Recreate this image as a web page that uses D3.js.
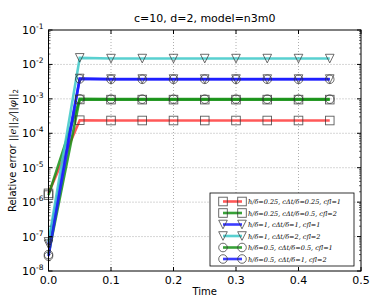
<!DOCTYPE html>
<meta charset="utf-8">
<head>
<style>
  body, html { margin: 0; background: white; }
  svg text { font-family: "DejaVu Sans", sans-serif; fill: #000; }
  .grid line { stroke: #999; stroke-dasharray: 1,2; stroke-width: 0.8; }
  .leg text { font-family: "DejaVu Serif", serif; font-style: italic; font-size: 6.5px; }
</style>
<script src="https://cdn.jsdelivr.net/npm/d3@7"></script>
</head>
<body>
<div id="chart"></div>
<script>
var times = [0, 0.05, 0.1, 0.15, 0.2, 0.25, 0.3, 0.35, 0.4, 0.45];
var redSq   = [1.8e-6, 2.4e-4, 2.35e-4, 2.35e-4, 2.35e-4, 2.35e-4, 2.35e-4, 2.35e-4, 2.35e-4, 2.35e-4];
var greenSq = [1.6e-6, 9.6e-4, 9.5e-4, 9.5e-4, 9.5e-4, 9.5e-4, 9.5e-4, 9.5e-4, 9.5e-4, 9.5e-4];
var blueTri = [6e-8, 3.9e-3, 3.75e-3, 3.75e-3, 3.75e-3, 3.75e-3, 3.75e-3, 3.75e-3, 3.75e-3, 3.75e-3];
var cyanTri = [7e-8, 1.55e-2, 1.48e-2, 1.48e-2, 1.48e-2, 1.48e-2, 1.48e-2, 1.48e-2, 1.48e-2, 1.48e-2];
var greenCi = [3e-8, 1.0e-3, 9.8e-4, 9.8e-4, 9.8e-4, 9.8e-4, 9.8e-4, 9.8e-4, 9.8e-4, 9.8e-4];
var blueCi  = [2.7e-8, 3.8e-3, 3.7e-3, 3.7e-3, 3.7e-3, 3.7e-3, 3.7e-3, 3.7e-3, 3.7e-3, 3.7e-3];
var xTicks = [0, 0.1, 0.2, 0.3, 0.4, 0.5];
var yExps = [-8, -7, -6, -5, -4, -3, -2, -1];

var series = [
  {vals: redSq,   color: "#ff3b3b", marker: "square",   label: ["h/δ=0.25, ", "cΔt/δ=0.25, ", "cfl=1"]},
  {vals: greenSq, color: "#159015", marker: "square",   label: ["h/δ=0.25, ", "cΔt/δ=0.5, ", "cfl=2"]},
  {vals: blueTri, color: "#1a1aff", marker: "triangle", label: ["h/δ=1, ", "cΔt/δ=1, ", "cfl=1"]},
  {vals: cyanTri, color: "#3cc8c8", marker: "triangle", label: ["h/δ=1, ", "cΔt/δ=2, ", "cfl=2"]},
  {vals: greenCi, color: "#159015", marker: "circle",   label: ["h/δ=0.5, ", "cΔt/δ=0.5, ", "cfl=1"]},
  {vals: blueCi,  color: "#1a1aff", marker: "circle",   label: ["h/δ=0.5, ", "cΔt/δ=1, ", "cfl=2"]}
];

var W = 390, H = 302;
var m = {left: 48.5, right: 29, top: 30, bottom: 31};
var svg = d3.select("#chart").append("svg").attr("width", W).attr("height", H);

var x = d3.scaleLinear().domain([0, 0.5]).range([m.left, W - m.right]);
var y = d3.scaleLog().domain([1e-8, 1e-1]).range([H - m.bottom, m.top]);

// grid
var grid = svg.append("g").attr("class", "grid");
grid.selectAll(".gx").data(xTicks.slice(1, -1)).enter().append("line")
  .attr("x1", d => x(d)).attr("x2", d => x(d)).attr("y1", y(1e-8)).attr("y2", y(1e-1));
grid.selectAll(".gy").data(yExps.slice(1, -1)).enter().append("line")
  .attr("y1", d => y(Math.pow(10, d))).attr("y2", d => y(Math.pow(10, d)))
  .attr("x1", x(0)).attr("x2", x(0.5));

// lines and markers
var line = d3.line().x((d, i) => x(times[i])).y(d => y(d));
function drawMarker(g, type, cx, cy) {
  var s = 4.3;
  var st = {fill: "none", stroke: "#333", "stroke-width": 0.9, "stroke-opacity": 0.8};
  var el;
  if (type === "square") el = g.append("rect").attr("x", cx - s).attr("y", cy - s).attr("width", 2 * s).attr("height", 2 * s);
  else if (type === "circle") el = g.append("circle").attr("cx", cx).attr("cy", cy).attr("r", s);
  else el = g.append("path").attr("d", "M" + (cx - s) + "," + (cy - s) + "L" + (cx + s) + "," + (cy - s) + "L" + cx + "," + (cy + s) + "Z");
  for (var k in st) el.attr(k, st[k]);
}
var plot = svg.append("g");
series.forEach(function(s) {
  plot.append("path").datum(s.vals).attr("d", line)
    .attr("fill", "none").attr("stroke", s.color).attr("stroke-width", 2.6).attr("stroke-opacity", 0.85);
});
series.forEach(function(s) {
  s.vals.forEach(function(v, i) { drawMarker(plot, s.marker, x(times[i]), y(v)); });
});

// frame
svg.append("rect").attr("x", x(0)).attr("y", y(1e-1)).attr("width", x(0.5) - x(0)).attr("height", y(1e-8) - y(1e-1))
  .attr("fill", "none").attr("stroke", "#000").attr("stroke-width", 1);

// x ticks
var xa = svg.append("g");
xTicks.forEach(function(t) {
  xa.append("line").attr("x1", x(t)).attr("x2", x(t)).attr("y1", y(1e-8)).attr("y2", y(1e-8) - 4).attr("stroke", "#000");
  xa.append("line").attr("x1", x(t)).attr("x2", x(t)).attr("y1", y(1e-1)).attr("y2", y(1e-1) + 4).attr("stroke", "#000");
  xa.append("text").attr("x", x(t)).attr("y", y(1e-8) + 13).attr("text-anchor", "middle").attr("font-size", 11)
    .text(d3.format(".1f")(t));
});

// y ticks
var ya = svg.append("g");
yExps.forEach(function(e) {
  var py = y(Math.pow(10, e));
  ya.append("line").attr("x1", x(0)).attr("x2", x(0) + 4).attr("y1", py).attr("y2", py).attr("stroke", "#000");
  ya.append("line").attr("x1", x(0.5)).attr("x2", x(0.5) - 4).attr("y1", py).attr("y2", py).attr("stroke", "#000");
  var t = ya.append("text").attr("x", x(0) - 5).attr("y", py + 4).attr("text-anchor", "end").attr("font-size", 11);
  t.append("tspan").text("10");
  t.append("tspan").attr("dy", -5).attr("font-size", 7.5).text("-" + Math.abs(e));
  if (e < -1) {
    for (var k = 2; k <= 9; k++) {
      var my = y(k * Math.pow(10, e));
      ya.append("line").attr("x1", x(0)).attr("x2", x(0) + 2).attr("y1", my).attr("y2", my).attr("stroke", "#000").attr("stroke-width", 0.6);
      ya.append("line").attr("x1", x(0.5)).attr("x2", x(0.5) - 2).attr("y1", my).attr("y2", my).attr("stroke", "#000").attr("stroke-width", 0.6);
    }
  }
});

// title and labels
svg.append("text").attr("x", (x(0) + x(0.5)) / 2).attr("y", 22).attr("text-anchor", "middle").attr("font-size", 11)
  .text("c=10, d=2, model=n3m0");
svg.append("text").attr("x", (x(0) + x(0.5)) / 2).attr("y", 295).attr("text-anchor", "middle").attr("font-size", 10)
  .text("Time");
var yl = svg.append("text").attr("transform", "translate(16," + ((y(1e-1) + y(1e-8)) / 2) + ") rotate(-90)")
  .attr("text-anchor", "middle").attr("font-size", 10);
yl.append("tspan").text("Relative error ");
yl.append("tspan").attr("font-family", "DejaVu Serif").attr("font-style", "italic").text("||e||");
yl.append("tspan").attr("font-size", 7).attr("dy", 2).text("2");
yl.append("tspan").attr("dy", -2).attr("font-family", "DejaVu Serif").attr("font-style", "italic").text("/||φ||");
yl.append("tspan").attr("font-size", 7).attr("dy", 2).text("2");

// legend
var leg = svg.append("g").attr("class", "leg");
leg.append("rect").attr("x", 210).attr("y", 193).attr("width", 144).attr("height", 73)
  .attr("fill", "white").attr("stroke", "#000").attr("stroke-width", 0.8);
series.forEach(function(s, i) {
  var ly = 201.5 + i * 11.5;
  leg.append("line").attr("x1", 223).attr("x2", 242).attr("y1", ly).attr("y2", ly)
    .attr("stroke", s.color).attr("stroke-width", 2.6).attr("stroke-opacity", 0.85);
  drawMarker(leg, s.marker, 223, ly);
  drawMarker(leg, s.marker, 242, ly);
  leg.append("text").attr("x", 248).attr("y", ly + 2.5).text(s.label.join(""));
});
</script>
</body>
